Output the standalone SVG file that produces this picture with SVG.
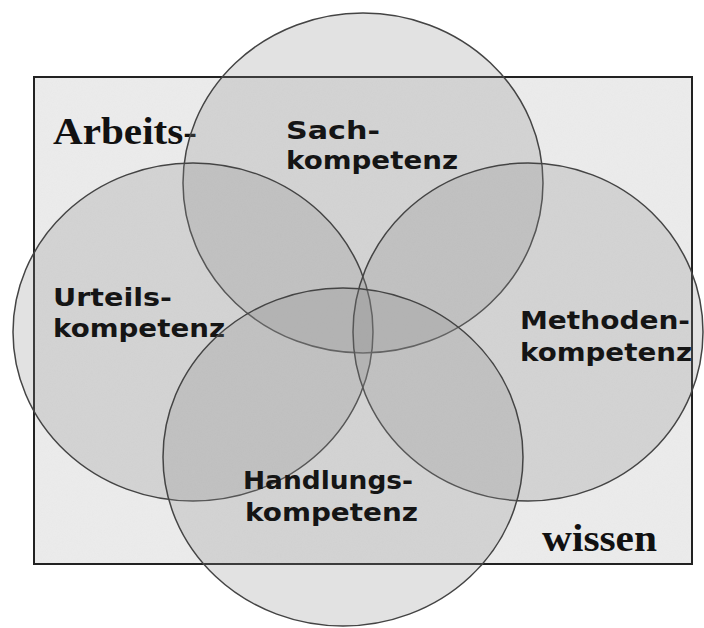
<svg xmlns="http://www.w3.org/2000/svg" width="704" height="628" viewBox="0 0 704 628">
<defs>
<filter id="grain" x="0" y="0" width="100%" height="100%">
<feTurbulence type="fractalNoise" baseFrequency="0.8" numOctaves="3" seed="5" result="n"/>
<feColorMatrix in="n" type="matrix" values="0 0 0 0 0.8  0 0 0 0 0.8  0 0 0 0 0.8  0 0 0 -1.6 1.1" result="g"/>
<feComposite in="g" in2="SourceGraphic" operator="in"/>
</filter>
<style>
.frame{fill:#ebebeb;stroke:#222;stroke-width:2}
.c{fill:#8a8a8a;fill-opacity:0.25;stroke:#444;stroke-width:1.5}
.lbl{font-family:"DejaVu Sans",Verdana,sans-serif;font-weight:bold;font-size:24px;fill:#151515}
.big{font-family:"Liberation Serif","Times New Roman",serif;font-weight:bold;font-size:37px;fill:#111}
</style>
</defs>
<rect width="704" height="628" fill="#fff"/>
<g id="frame">
<rect class="frame" x="34" y="77" width="658" height="487"/>
<rect x="35" y="78" width="656" height="485" fill="#fff" filter="url(#grain)" opacity="0.55"/>
<text class="big" x="53" y="144" textLength="144" lengthAdjust="spacingAndGlyphs">Arbeits-</text>
<text class="big" x="542" y="551" textLength="115" lengthAdjust="spacingAndGlyphs">wissen</text>
</g>
<g id="sach">
<ellipse class="c" cx="363" cy="183" rx="180" ry="170"/>
<text class="lbl" x="286" y="139" textLength="94" lengthAdjust="spacingAndGlyphs">Sach-</text>
<text class="lbl" x="286" y="169" textLength="172" lengthAdjust="spacingAndGlyphs">kompetenz</text>
</g>
<g id="urteils">
<ellipse class="c" cx="193" cy="332" rx="180" ry="169"/>
<text class="lbl" x="53" y="306" textLength="119" lengthAdjust="spacingAndGlyphs">Urteils-</text>
<text class="lbl" x="53" y="337" textLength="172" lengthAdjust="spacingAndGlyphs">kompetenz</text>
</g>
<g id="methoden">
<ellipse class="c" cx="528" cy="332" rx="175" ry="169"/>
<text class="lbl" x="520" y="329" textLength="170" lengthAdjust="spacingAndGlyphs">Methoden-</text>
<text class="lbl" x="520" y="361" textLength="172" lengthAdjust="spacingAndGlyphs">kompetenz</text>
</g>
<g id="handlungs">
<ellipse class="c" cx="343" cy="457" rx="180" ry="169"/>
<text class="lbl" x="243" y="489" textLength="170" lengthAdjust="spacingAndGlyphs">Handlungs-</text>
<text class="lbl" x="245" y="521" textLength="173" lengthAdjust="spacingAndGlyphs">kompetenz</text>
</g>
<g id="connectors"/>
</svg>
